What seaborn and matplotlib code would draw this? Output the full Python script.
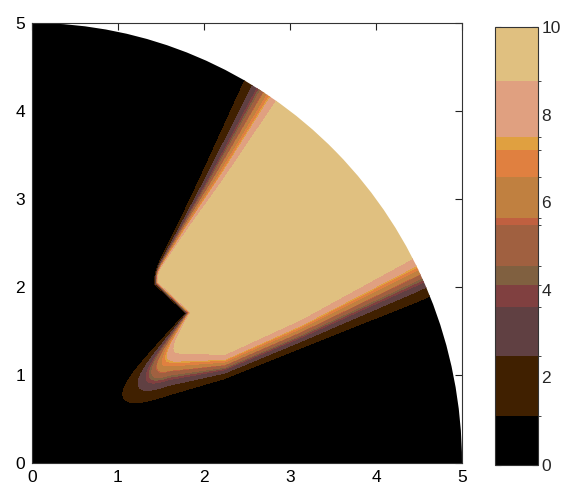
import math
import numpy as np
import matplotlib
matplotlib.use("Agg")
import matplotlib.pyplot as plt
from matplotlib.colors import BoundaryNorm, ListedColormap
from matplotlib.patches import Circle
import seaborn as sns

# Contour levels and the colour of each band between consecutive levels
band_levels = [0, 1.11, 2.48, 3.60, 4.10, 4.55, 5.47, 5.64, 6.57, 7.20, 7.49, 8.77, 10]
band_colors = ["#000000", "#402000", "#604042", "#804040", "#806040", "#a06040",
               "#c06040", "#c08040", "#e08040", "#e0a040", "#e0a080", "#e0c080"]
axis_ticks = [0, 1, 2, 3, 4, 5]
bar_ticks = [0, 2, 4, 6, 8, 10]

domain_radius = 5.0
peak_value = 10.0

# Upper edge of the plume: centre x at several heights, and its spread
upper_y = [2.17, 2.65, 3.22, 4.32, 5.2]
upper_x = [1.45, 1.74, 2.09, 2.73, 3.24]
upper_spread = [0.023, 0.058, 0.117, 0.22, 0.27]

# Lower edge of the plume: centre height at several x, and its spread
lower_x = [1.12, 1.6, 2.24, 3.12, 4.5, 5.5]
lower_y = [0.86, 1.02, 1.10, 1.47, 2.11, 2.6]
lower_spread = [0.19, 0.20, 0.115, 0.135, 0.22, 0.25]

# Notch: vertical step, upper slanted edge and lower slanted edge
step_x, step_spread = 1.45, 0.02
notch_upper = [(1.805, 1.72), (1.46, 2.035)]
notch_upper_spread = 0.02
# lower slanted edge runs from the tip up to the inner corner; spread at each end
notch_lower = [(1.125, 0.745), (1.80, 1.68)]
notch_lower_spread = [0.14, 0.02]

sns.set_style("white")
plt.rcParams["font.family"] = ["Liberation Sans", "DejaVu Sans"]

_erf = np.vectorize(math.erf)


def cdf(z):
    return 0.5 * (1.0 + _erf(np.clip(z, -8, 8) / math.sqrt(2.0)))


def interp_ext(t, kt, kv):
    """Piecewise-linear interpolation with linear extension past both ends."""
    kt = np.asarray(kt, float)
    kv = np.asarray(kv, float)
    v = np.interp(t, kt, kv)
    lo = t < kt[0]
    hi = t > kt[-1]
    s0 = (kv[1] - kv[0]) / (kt[1] - kt[0])
    s1 = (kv[-1] - kv[-2]) / (kt[-1] - kt[-2])
    v = np.where(lo, kv[0] + s0 * (t - kt[0]), v)
    v = np.where(hi, kv[-1] + s1 * (t - kt[-1]), v)
    return v


def edge_coords(x, y, seg):
    """Signed distance to the right of a segment and fraction along it."""
    (x0, y0), (x1, y1) = seg
    dx, dy = x1 - x0, y1 - y0
    n = math.hypot(dx, dy)
    across = ((x - x0) * dy - (y - y0) * dx) / n
    along = ((x - x0) * dx + (y - y0) * dy) / (n * n)
    return across, along


gx = np.linspace(0, domain_radius, 501)
gy = np.linspace(0, domain_radius, 501)
X, Y = np.meshgrid(gx, gy)

xu = interp_ext(Y, upper_y, upper_x)
su = np.maximum(interp_ext(Y, upper_y, upper_spread), 0.01)
a_up = cdf((X - xu) / su)

yl = interp_ext(X, lower_x, lower_y)
sl = np.clip(interp_ext(X, lower_x, lower_spread), 0.1, None)
a_low = cdf((Y - yl) / sl)

a_step = cdf((X - step_x) / step_spread)
d1, _ = edge_coords(X, Y, notch_upper)
a_n1 = cdf(d1 / notch_upper_spread)
d2, t2 = edge_coords(X, Y, notch_lower)
s2 = np.interp(np.clip(t2, 0, 1), [0, 1], notch_lower_spread)
a_n2 = cdf(d2 / s2)

Z = peak_value * a_up * a_low * np.maximum(np.minimum(a_step, a_n1), a_n2)
Z = np.clip(Z, 0, peak_value)

cmap = ListedColormap(sns.color_palette(band_colors))
norm = BoundaryNorm(band_levels, len(band_colors))

fig = plt.figure(figsize=(5.64, 4.88), dpi=100)
ax = fig.add_axes([32 / 564, 25 / 488, 430 / 564, 440 / 488])
cax = fig.add_axes([495 / 564, 23 / 488, 43 / 564, 438 / 488])

cs = ax.contourf(X, Y, Z, levels=band_levels, cmap=cmap, norm=norm)
disk = Circle((0, 0), domain_radius, transform=ax.transData)
cs.set_clip_path(disk)

ax.set_xlim(0, 5)
ax.set_ylim(0, 5)
ax.set_xticks(axis_ticks)
ax.set_yticks(axis_ticks)
ax.tick_params(direction="in", top=True, right=True, length=5, width=0.8,
               labelsize=12.5, colors="#222222", labelcolor="black")
ax.tick_params(axis="x", pad=5)
ax.tick_params(axis="y", pad=5)
for sp in ax.spines.values():
    sp.set_linewidth(0.8)
    sp.set_color("#333333")

cb = fig.colorbar(cs, cax=cax, spacing="proportional", ticks=bar_ticks)
cax.tick_params(direction="in", left=True, right=True, length=4, width=0.8,
                labelsize=12.5, pad=2.5)
cb.outline.set_linewidth(0.8)
cb.outline.set_edgecolor("#333333")

fig.savefig("out.png", dpi=100, facecolor="white")
